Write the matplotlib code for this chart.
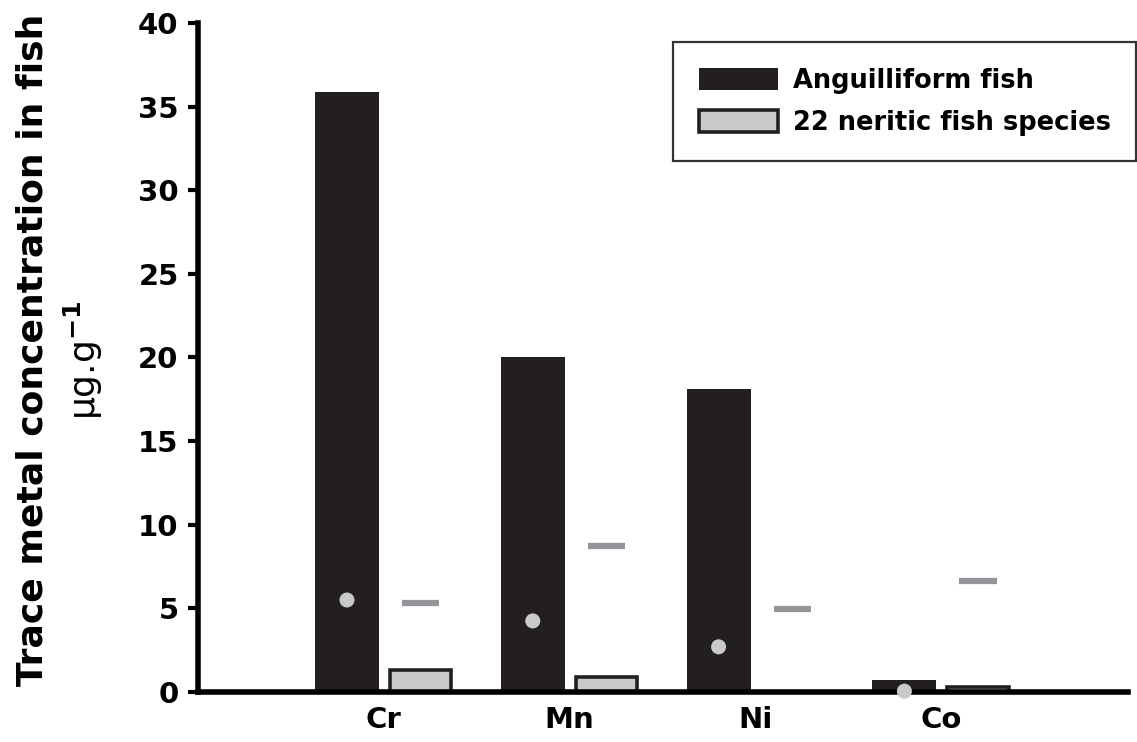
import numpy as np
import matplotlib
matplotlib.use('Agg')
import matplotlib.pyplot as plt

plt.rcParams['font.family'] = ['DejaVu Sans']
plt.rcParams['font.weight'] = 'bold'

metals = ['Cr', 'Mn', 'Ni', 'Co']
anguilliform = [35.9, 20.0, 18.1, 0.72]
neritic = [1.3, 0.9, 0.0, 0.31]
dots = [5.5, 4.25, 2.7, 0.05]
dashes = [5.3, 8.75, 4.97, 6.65]

black = '#231f20'
light = '#c8c9cb'
dash_col = '#939598'

fig = plt.figure(figsize=(11.37, 7.42), dpi=100)
ax = fig.add_axes([0.1741, 0.0674, 0.8179, 0.9016])

x = np.arange(len(metals))
off = 0.396
ax.bar(x, anguilliform, width=0.345, color=black, label='Anguilliform fish', zorder=2)
ax.bar(x + off, neritic, width=0.33, color=light, edgecolor=black, linewidth=2.6,
       label='22 neritic fish species', zorder=2)
ax.scatter(x, dots, s=117, color=light, edgecolor='none', zorder=6, clip_on=False)
ax.hlines(dashes, x + off - 0.1, x + off + 0.1, color=dash_col, linewidth=4.5, zorder=3)

ax.set_xlim(-0.802, 4.203)
ax.set_ylim(0, 40)
ax.set_yticks(range(0, 41, 5))
ax.set_xticks(x + off / 2)
ax.set_xticklabels(metals)
ax.spines['top'].set_visible(False)
ax.spines['right'].set_visible(False)
ax.spines['left'].set_linewidth(4)
ax.spines['bottom'].set_linewidth(4)
ax.spines['left'].set_zorder(5)
ax.spines['bottom'].set_zorder(5)
ax.tick_params(axis='y', direction='out', length=7, width=3, labelsize=21, pad=7)
ax.tick_params(axis='x', length=0, labelsize=21, pad=10)

fig.text(0.029, 0.528, 'Trace metal concentration in fish', rotation=90,
         ha='center', va='center', fontsize=26, fontweight='bold')
fig.text(0.073, 0.515, r'µg.g$^{\mathbf{-1}}$', rotation=90,
         ha='center', va='center', fontsize=26, fontweight='normal')

leg = ax.legend(loc='upper right', bbox_to_anchor=(1.009, 0.971), borderaxespad=0,
                fontsize=18.5, frameon=True, fancybox=False, edgecolor='black',
                handlelength=3.1, handleheight=0.95, handletextpad=0.55,
                borderpad=1.0, labelspacing=0.6)
leg.get_frame().set_linewidth(1.6)

fig.savefig('out.png', dpi=100)
